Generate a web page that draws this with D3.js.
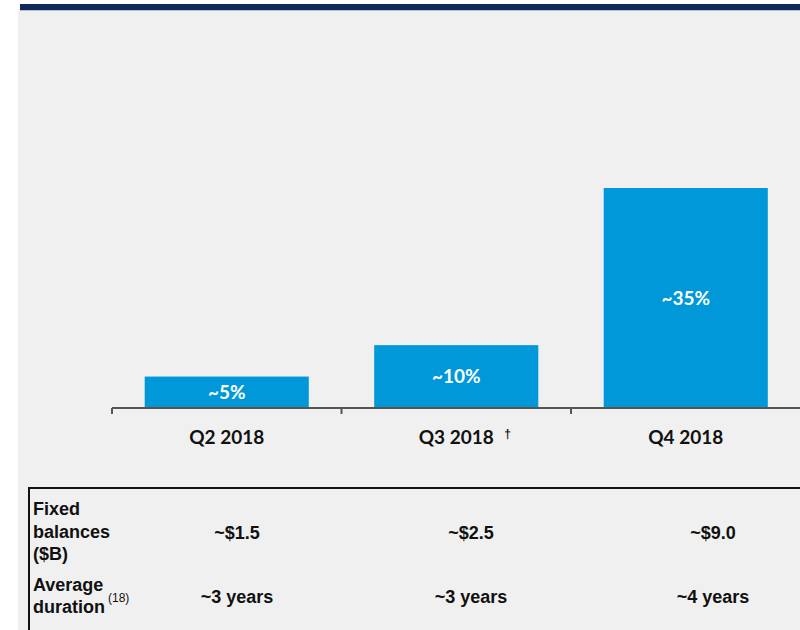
<!DOCTYPE html>
<html><head><meta charset="utf-8">
<script src="https://cdn.jsdelivr.net/npm/d3@7"></script>
<style>html,body{margin:0;padding:0;background:#fff;}svg{display:block;}</style>
</head><body>
<script>
const categories = ["Q2 2018", "Q3 2018", "Q4 2018"];
const categoryMarks = ["", "†", ""];
const shares = [5, 10, 35];
const shareLabels = ["~5%", "~10%", "~35%"];
const rowLabels = [["Fixed", "balances", "($B)"], ["Average", "duration"]];
const rowNotes = ["", "(18)"];
const fixedBalances = ["~$1.5", "~$2.5", "~$9.0"];
const avgDuration = ["~3 years", "~3 years", "~4 years"];

const W = 800, H = 630;
const svg = d3.select("body").append("svg").attr("width", W).attr("height", H);

svg.append("rect").attr("x", 18).attr("y", 9).attr("width", W - 18).attr("height", H - 9).attr("fill", "#f0f0f0");
svg.append("rect").attr("x", 20).attr("y", 4).attr("width", W - 20).attr("height", 6).attr("fill", "#0c2b5b");
svg.append("line").attr("x1", 20).attr("x2", W).attr("y1", 10.5).attr("y2", 10.5).attr("stroke", "#b8c0cc").attr("stroke-width", 1);

const x = d3.scaleBand().domain(categories).range([112, 571 + 229.5]).paddingInner(0.285).paddingOuter(0.1425);
const y = d3.scaleLinear().domain([0, 35]).range([408, 188]);

const bars = svg.append("g");
bars.selectAll("rect").data(categories).join("rect")
  .attr("x", d => x(d)).attr("width", x.bandwidth())
  .attr("y", (d, i) => y(shares[i])).attr("height", (d, i) => y(0) - y(shares[i]))
  .attr("fill", "#0098d9");

bars.selectAll("text").data(categories).join("text")
  .attr("x", d => x(d) + x.bandwidth() / 2)
  .attr("y", (d, i) => (y(shares[i]) + y(0)) / 2)
  .attr("dy", "0.35em")
  .attr("text-anchor", "middle")
  .attr("fill", "#fff")
  .attr("font-family", "Lato, 'Open Sans', sans-serif")
  .attr("font-weight", "bold")
  .attr("font-size", 19)
  .text((d, i) => shareLabels[i]);

// axis
const step = x.step();
const axisG = svg.append("g").attr("transform", "translate(0,408)");
axisG.append("line").attr("x1", 112).attr("x2", W).attr("y1", 0).attr("y2", 0).attr("stroke", "#555").attr("stroke-width", 2);
axisG.selectAll("line.tick").data(categories).join("line").attr("class", "tick")
  .attr("x1", d => x(d) - (step - x.bandwidth()) / 2).attr("x2", d => x(d) - (step - x.bandwidth()) / 2)
  .attr("y1", 0).attr("y2", 6).attr("stroke", "#555").attr("stroke-width", 2);

svg.append("g").selectAll("text").data(categories).join("text")
  .attr("x", d => x(d) + x.bandwidth() / 2)
  .attr("y", 437).attr("dy", "0.35em")
  .attr("text-anchor", "middle")
  .attr("fill", "#111")
  .attr("font-family", "Lato, 'Open Sans', sans-serif")
  .attr("font-weight", "bold")
  .attr("font-size", 19)
  .text(d => d);
svg.append("g").selectAll("text").data(categories).join("text")
  .attr("x", d => x(d) + x.bandwidth() / 2 + 48)
  .attr("y", 434).attr("dy", "0.35em")
  .attr("fill", "#111")
  .attr("font-family", "'Liberation Sans', Arial, sans-serif")
  .attr("font-weight", "bold")
  .attr("font-size", 12)
  .text((d, i) => categoryMarks[i]);

// table
svg.append("line").attr("x1", 28).attr("x2", W).attr("y1", 488).attr("y2", 488).attr("stroke", "#111").attr("stroke-width", 2);
svg.append("line").attr("x1", 29).attr("x2", 29).attr("y1", 487).attr("y2", H).attr("stroke", "#111").attr("stroke-width", 2);

const tf = "'Liberation Sans', Arial, sans-serif";
const colX = [237, 471, 713];
const rowLineY = [[509, 532, 554], [585, 607]];
rowLabels.forEach((lines, r) => {
  lines.forEach((t, k) => {
    svg.append("text").attr("x", 33).attr("y", rowLineY[r][k]).attr("dy", "0.35em")
      .attr("font-family", tf).attr("font-weight", "bold").attr("font-size", 18).attr("fill", "#111").text(t);
  });
});
svg.append("text").attr("x", 108).attr("y", 598).attr("dy", "0.35em")
  .attr("font-family", tf).attr("font-size", 12).attr("fill", "#111").text(rowNotes[1]);

const rows = [fixedBalances, avgDuration];
const rowY = [533, 597];
rows.forEach((vals, r) => {
  svg.append("g").selectAll("text").data(vals).join("text")
    .attr("x", (d, i) => colX[i]).attr("y", rowY[r]).attr("dy", "0.35em")
    .attr("text-anchor", "middle")
    .attr("font-family", tf).attr("font-weight", "bold").attr("font-size", 18).attr("fill", "#111")
    .text(d => d);
});
</script>
</body></html>
